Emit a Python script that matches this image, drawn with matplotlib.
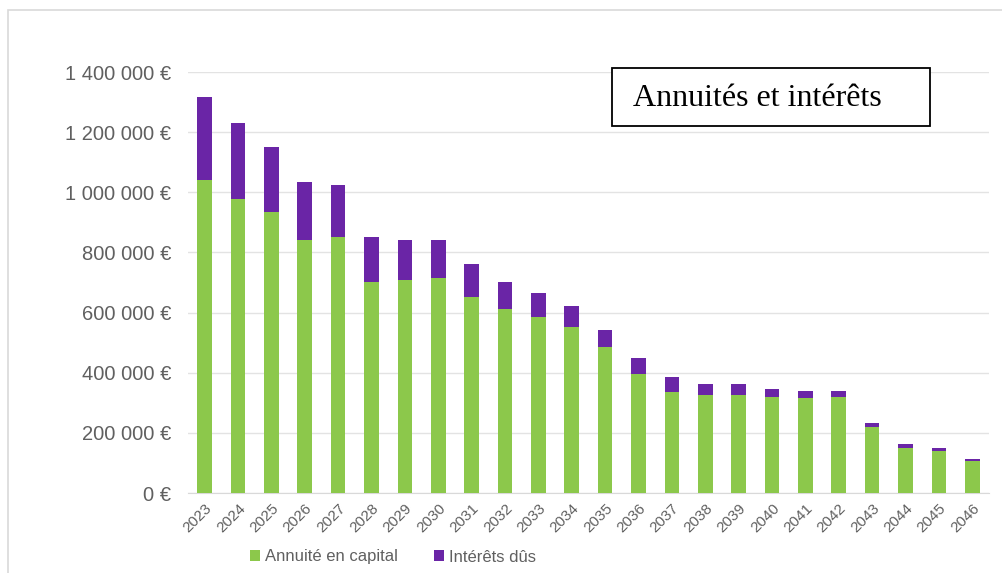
import matplotlib.pyplot as plt
from matplotlib.patches import Rectangle

# =============================================================================
# Annuités et intérêts
# =============================================================================

YEARS = [str(y) for y in range(2023, 2047)]
CAPITAL = [1042000, 978000, 935000, 842000, 852000, 702000, 709000, 715000,
           652000, 611000, 586000, 552000, 486000, 396000, 336000, 326000,
           326000, 319000, 316000, 319000, 220000, 150000, 140000, 106000]
TOTAL = [1318000, 1231000, 1151000, 1035000, 1025000, 852000, 842000, 842000,
         762000, 702000, 666000, 622000, 542000, 449000, 386000, 363000,
         363000, 346000, 339000, 339000, 233000, 163000, 150000, 113000]
INTERETS = [t - c for t, c in zip(TOTAL, CAPITAL)]
YTICKS = [0, 200000, 400000, 600000, 800000, 1000000, 1200000, 1400000]
LABEL = ['Annuité en capital', 'Intérêts dûs']

GREEN = '#8cc84b'
PURPLE = '#6a25a6'
GREY = '#606060'

fig = plt.figure(figsize=(10.03, 5.73), dpi=100)
ax = fig.add_axes([0.1874, 0.1396, 0.7986, 0.7347])

x = range(len(YEARS))
ax.bar(x, CAPITAL, width=0.44, color=GREEN, label=LABEL[0], zorder=3)
ax.bar(x, INTERETS, width=0.44, bottom=CAPITAL, color=PURPLE,
       label=LABEL[1], zorder=3)

ax.set_xlim(-0.5, len(YEARS) - 0.5)
ax.set_ylim(0, 1400000)
ax.set_yticks(YTICKS)
ax.set_yticklabels(
    [f'{v:,}'.replace(',', ' ') + ' €' for v in YTICKS],
    fontsize=14.5, color=GREY, family='Liberation Sans')
ax.set_xticks(list(x))
ax.set_xticklabels(YEARS, rotation=45, ha='right', rotation_mode='anchor',
                   fontsize=11, color=GREY, family='Liberation Sans')
ax.tick_params(axis='y', length=0, pad=12)
ax.tick_params(axis='x', length=0, pad=6)
ax.grid(axis='y', color='#e3e3e3', linewidth=1, zorder=0)
for side in ('top', 'right', 'left'):
    ax.spines[side].set_visible(False)
ax.spines['bottom'].set_color('#d9d9d9')

fig.legend(loc='center', bbox_to_anchor=(0.392, 1 - 557 / 573), ncol=2,
           frameon=False, handlelength=0.6, handleheight=0.6,
           handletextpad=0.3, columnspacing=2.2,
           prop={'family': 'Liberation Sans', 'size': 12},
           labelcolor=GREY)

# outer light frame
fig.patches.append(Rectangle((8 / 1003, -0.01), 1.02, 1 - 10 / 573 + 0.01,
                             transform=fig.transFigure, fill=False,
                             edgecolor='#d9d9d9', linewidth=1.2))

# title box
fig.patches.append(Rectangle((612 / 1003, 1 - 126 / 573), 318 / 1003,
                             58 / 573, transform=fig.transFigure,
                             facecolor='white', edgecolor='black',
                             linewidth=1.3, zorder=5))
fig.text(633 / 1003, 1 - 99 / 573, 'Annuités et intérêts',
         family='Liberation Serif', fontsize=23, va='center', ha='left',
         zorder=6)

fig.savefig('out.png', dpi=100)
